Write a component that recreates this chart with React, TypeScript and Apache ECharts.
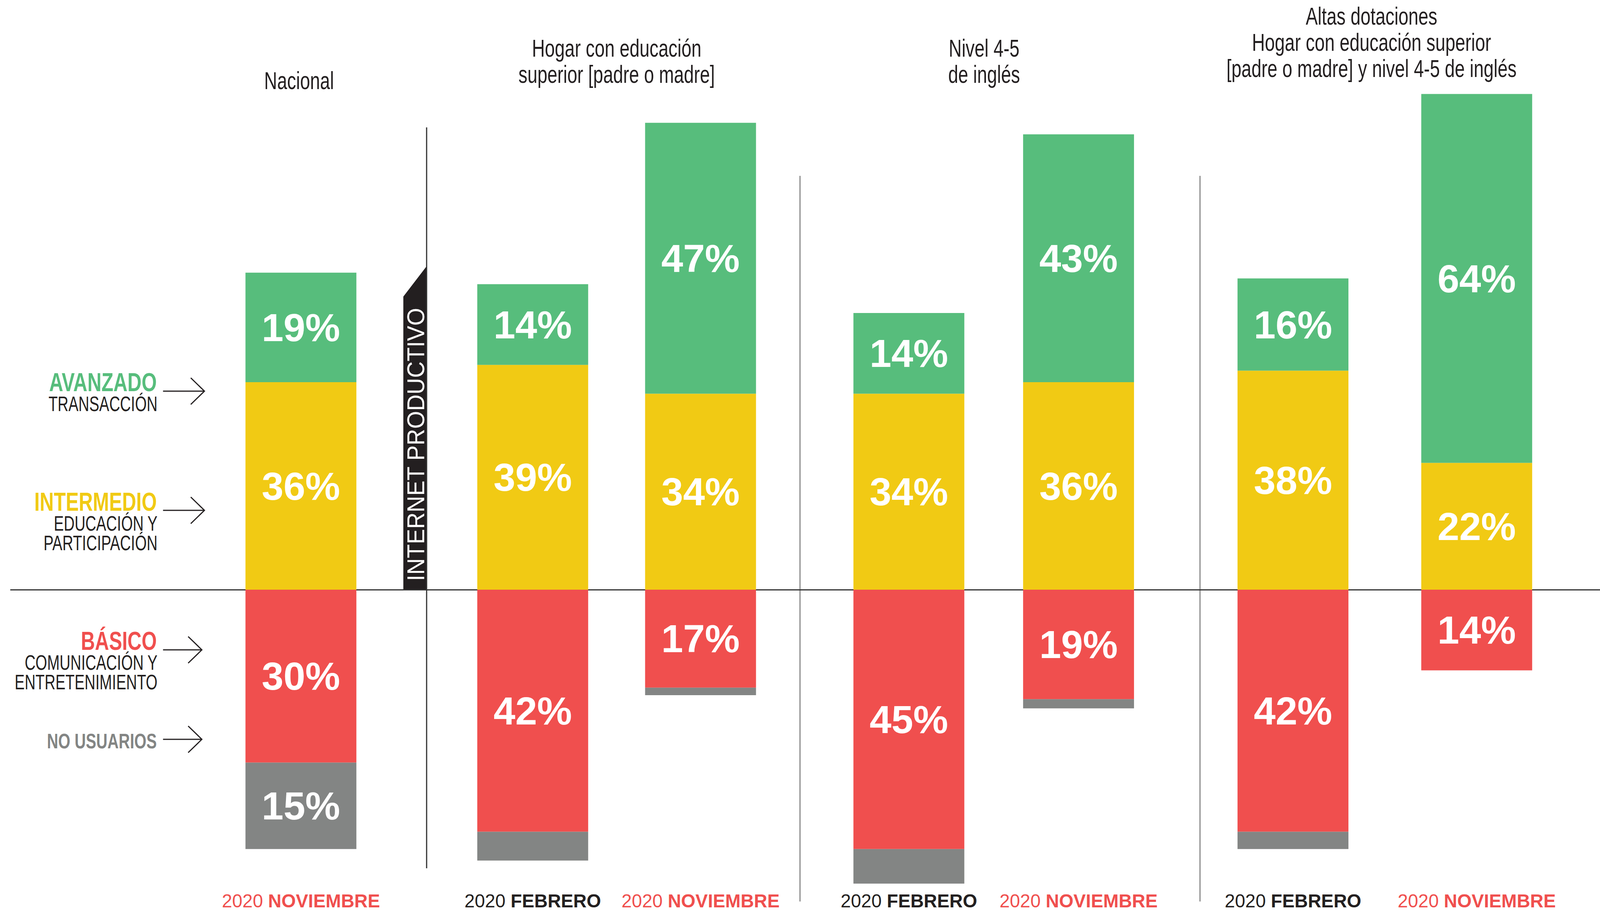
import React, { useEffect, useRef } from "react";
import * as echarts from "echarts";

// ---------- data ----------
const groupTitles = [
  "Nacional",
  "Hogar con educación\nsuperior [padre o madre]",
  "Nivel 4-5\nde inglés",
  "Altas dotaciones\nHogar con educación superior\n[padre o madre] y nivel 4-5 de inglés",
];
const barGroup = [0, 1, 1, 2, 2, 3, 3];
const barPeriod = [
  "2020 NOVIEMBRE",
  "2020 FEBRERO",
  "2020 NOVIEMBRE",
  "2020 FEBRERO",
  "2020 NOVIEMBRE",
  "2020 FEBRERO",
  "2020 NOVIEMBRE",
];
const avanzado = [19, 14, 47, 14, 43, 16, 64];
const intermedio = [36, 39, 34, 34, 36, 38, 22];
const basico = [30, 42, 17, 45, 19, 42, 14];
const noUsuarios = [15, 5, 1.3, 6, 1.6, 3, 0];
const levelNames = ["Intermedio", "Avanzado", "Básico", "No usuarios"];
const legendHeads = ["AVANZADO", "INTERMEDIO", "BÁSICO", "NO USUARIOS"];
const legendSubs = [["TRANSACCIÓN"], ["EDUCACIÓN Y", "PARTICIPACIÓN"], ["COMUNICACIÓN Y", "ENTRETENIMIENTO"], []];
const bannerText = "INTERNET PRODUCTIVO";

// ---------- style / layout (designed for 4328 x 2339, scaled to the real viewport) ----------
const BW = 4328;
const BH = 2339;
const GREEN = "#57BD7C";
const YELLOW = "#F1CA14";
const RED = "#F04F4E";
const GRAY = "#838584";
const INK = "#231F20";
const SANS = '"Liberation Sans", Arial, sans-serif';
const Y_MIN = -52;
const Y_MAX = 94;
const GRID_TOP = 122.5;
const GRID_BOTTOM = 63;
const groupGrids = [
  { left: 587, width: 454 },
  { left: 1214, width: 908 },
  { left: 2229, width: 918 },
  { left: 3249, width: 994 },
];
const titleCenters = [809, 1668, 2662, 3710];
const titleLastBaselines = [228, 212, 212, 197];
const legendBaselines = [1001, 1307, 1663, 1915];
const arrowYs = [1001, 1306, 1663, 1892];
const arrowEnds = [553, 553, 546, 546];

function buildOption(kx: number, ky: number) {
  const X = (v: number) => v * kx;
  const Y = (v: number) => v * ky;
  const kf = Math.min(kx, ky);
  const ks = kx / ky;

  const grids: any[] = [
    { left: X(29), right: 0, top: Y(GRID_TOP), bottom: Y(GRID_BOTTOM) },
  ];
  const xAxes: any[] = [
    {
      gridIndex: 0,
      type: "value",
      min: 0,
      max: 1,
      axisLine: { show: true, onZero: true, lineStyle: { color: "#333333", width: 3 } },
      axisTick: { show: false },
      axisLabel: { show: false },
      splitLine: { show: false },
    },
  ];
  const yAxes: any[] = [
    { gridIndex: 0, type: "value", min: Y_MIN, max: Y_MAX, show: false },
  ];
  const series: any[] = [
    { type: "line", xAxisIndex: 0, yAxisIndex: 0, data: [], silent: true },
  ];

  const labelFmt = (p: any) => {
    const v = Math.abs(p.value);
    return v >= 10 ? v + "%" : "";
  };

  const fs = 50 * kf;
  groupGrids.forEach((g, gi) => {
    const idx = gi + 1;
    const members = barGroup.map((b, i) => (b === gi ? i : -1)).filter((i) => i >= 0);
    grids.push({ left: X(g.left), width: X(g.width), top: Y(GRID_TOP), bottom: Y(GRID_BOTTOM) });
    xAxes.push({
      gridIndex: idx,
      type: "category",
      data: members.map((i) => barPeriod[i]),
      axisLine: { show: false },
      axisTick: { show: false },
      axisLabel: {
        interval: 0,
        hideOverlap: false,
        margin: Y(6),
        fontSize: fs,
        fontFamily: SANS,
        formatter: (v: string) => {
          const [yr, m] = v.split(" ");
          const c = m === "NOVIEMBRE" ? "R" : "K";
          return `{y${c}|${yr}} {m${c}|${m}}`;
        },
        rich: {
          yR: { color: RED, fontSize: fs, fontFamily: SANS },
          mR: { color: RED, fontSize: fs, fontFamily: SANS, fontWeight: "bold" },
          yK: { color: INK, fontSize: fs, fontFamily: SANS },
          mK: { color: INK, fontSize: fs, fontFamily: SANS, fontWeight: "bold" },
        },
      },
    });
    yAxes.push({ gridIndex: idx, type: "value", min: Y_MIN, max: Y_MAX, show: false });

    const levels = [
      { name: levelNames[0], color: YELLOW, data: members.map((i) => intermedio[i]) },
      { name: levelNames[1], color: GREEN, data: members.map((i) => avanzado[i]) },
      { name: levelNames[2], color: RED, data: members.map((i) => -basico[i]) },
      { name: levelNames[3], color: GRAY, data: members.map((i) => -noUsuarios[i]) },
    ];
    levels.forEach((lv) => {
      series.push({
        type: "bar",
        name: lv.name,
        xAxisIndex: idx,
        yAxisIndex: idx,
        stack: "g" + gi,
        barWidth: X(300),
        data: lv.data,
        itemStyle: { color: lv.color },
        label: {
          show: true,
          position: "inside",
          formatter: labelFmt,
          color: "#FFFFFF",
          fontSize: 106 * kf,
          fontWeight: "bold",
          fontFamily: SANS,
        },
      });
    });
  });

  const graphic: any[] = [];

  // group titles
  groupTitles.forEach((t, gi) => {
    const lines = t.split("\n");
    lines.forEach((ln, li) => {
      const baseline = titleLastBaselines[gi] - (lines.length - 1 - li) * 67;
      graphic.push({
        type: "text",
        x: X(titleCenters[gi]),
        y: Y(baseline - 0.3465 * 63),
        scaleX: 0.77 * ks,
        style: {
          text: ln,
          fill: INK,
          fontSize: 63 * ky,
          fontFamily: SANS,
          align: "center",
          verticalAlign: "middle",
        },
      });
    });
  });

  // left legend
  const legendColors = [GREEN, YELLOW, RED, GRAY];
  legendHeads.forEach((h, i) => {
    const isLast = i === 3;
    const size = isLast ? 54 : 66;
    graphic.push({
      type: "text",
      x: X(424),
      y: Y(legendBaselines[i] - 0.3465 * size),
      scaleX: (isLast ? 0.78 : 0.8) * ks,
      style: {
        text: h,
        fill: legendColors[i],
        fontSize: size * ky,
        fontWeight: "bold",
        fontFamily: SANS,
        align: "right",
        verticalAlign: "middle",
      },
    });
    legendSubs[i].forEach((s, si) => {
      graphic.push({
        type: "text",
        x: X(426),
        y: Y(legendBaselines[i] + 51 + si * 50 - 0.3465 * 54),
        scaleX: 0.75 * ks,
        style: {
          text: s,
          fill: INK,
          fontSize: 54 * ky,
          fontFamily: SANS,
          align: "right",
          verticalAlign: "middle",
        },
      });
    });
    const ay = Y(arrowYs[i]);
    const ax2 = X(arrowEnds[i]);
    graphic.push({
      type: "line",
      shape: { x1: X(441), y1: ay, x2: ax2, y2: ay },
      style: { stroke: INK, lineWidth: 3 },
    });
    graphic.push({
      type: "polyline",
      shape: { points: [[ax2 - X(37), ay - Y(34)], [ax2, ay], [ax2 - X(37), ay + Y(34)]] },
      style: { stroke: INK, lineWidth: 3, fill: null },
    });
  });

  // banner
  graphic.push({
    type: "polygon",
    shape: {
      points: [
        [X(1091), Y(1508)],
        [X(1091), Y(759)],
        [X(1155), Y(680)],
        [X(1155), Y(1508)],
      ],
    },
    style: { fill: INK },
  });
  graphic.push({
    type: "text",
    x: X(1125),
    y: Y(1487),
    rotation: Math.PI / 2,
    scaleX: 0.875,
    scaleY: ks,
    style: {
      text: bannerText,
      fill: "#FFFFFF",
      fontSize: 67 * ky,
      fontFamily: SANS,
      align: "left",
      verticalAlign: "middle",
    },
  });

  // separators
  graphic.push({
    type: "line",
    shape: { x1: X(1154), y1: Y(326), x2: X(1154), y2: Y(2222) },
    style: { stroke: "#333333", lineWidth: 3 },
  });
  [2164, 3246].forEach((x) =>
    graphic.push({
      type: "line",
      shape: { x1: X(x), y1: Y(450), x2: X(x), y2: Y(2307) },
      style: { stroke: "#8A8A8A", lineWidth: 3 },
    })
  );

  return {
    animation: false,
    backgroundColor: "#FFFFFF",
    grid: grids,
    xAxis: xAxes,
    yAxis: yAxes,
    series,
    graphic,
  };
}

export default function App() {
  const ref = useRef<HTMLDivElement>(null);
  useEffect(() => {
    const el = ref.current;
    if (!el) return;
    const w = el.clientWidth || BW;
    const h = el.clientHeight || BH;
    const chart = echarts.init(el, null, { renderer: "svg", width: w, height: h });
    chart.setOption(buildOption(w / BW, h / BH) as any);
    return () => chart.dispose();
  }, []);
  return (
    <div
      ref={ref}
      style={{ position: "fixed", left: 0, top: 0, width: "100vw", height: "100vh", background: "#fff" }}
    />
  );
}
